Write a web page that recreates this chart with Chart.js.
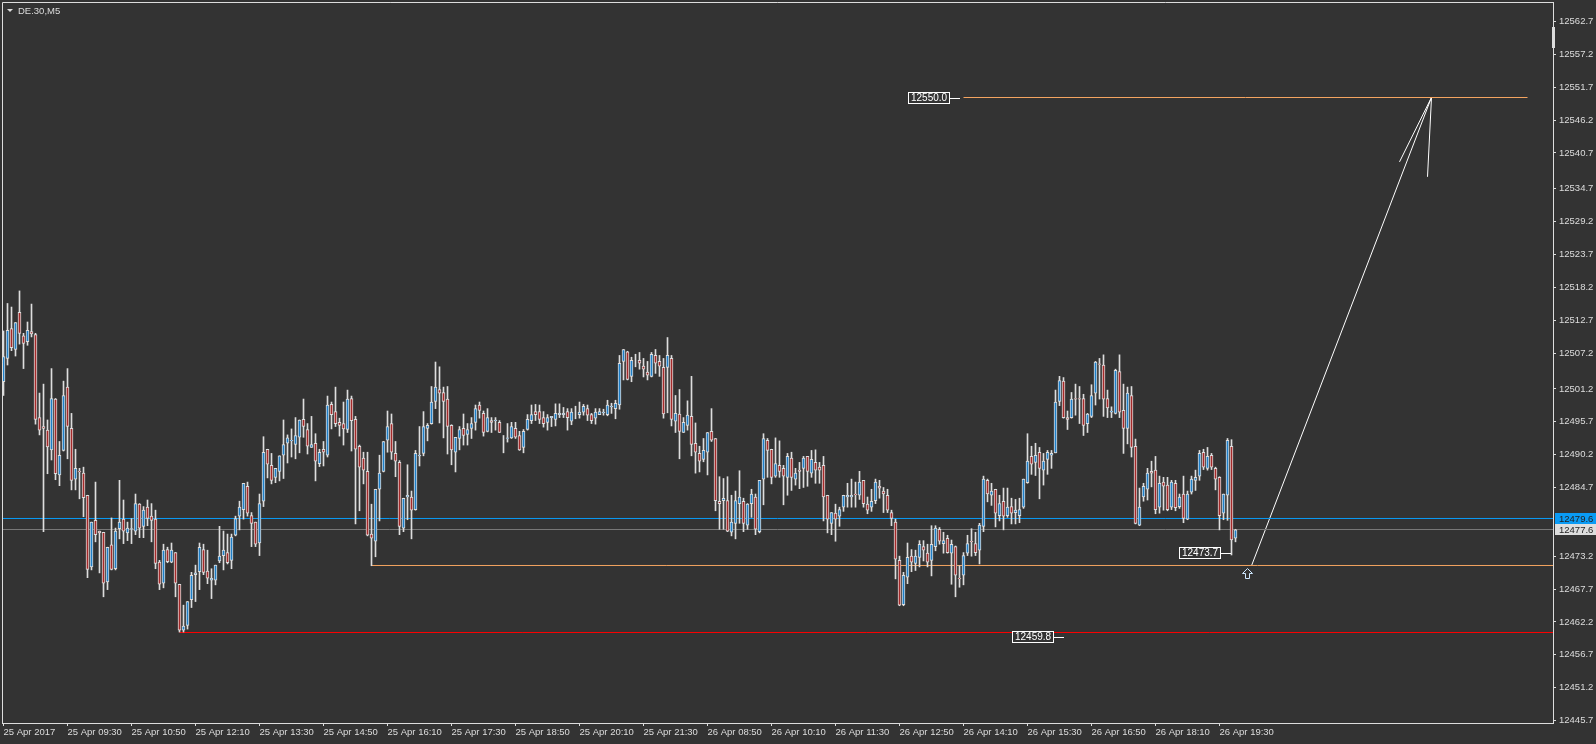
<!DOCTYPE html>
<html>
<head>
<meta charset="utf-8">
<title>DE.30,M5</title>
<script src="https://cdn.jsdelivr.net/npm/chart.js@4"></script>
<style>
    html, body { margin: 0; padding: 0; background: #333333; overflow: hidden; }
    canvas { display: block; }
</style>
</head>
<body>
<canvas id="chart" width="1596" height="744"></canvas>
<script>
// M5 bars, oldest first
const highs = [
12510.9,12515.5,12514.9,12512.3,12517.6,12510.5,12512.4,12515.4,12510.5,12500.5,
12502.0,12496.0,12504.6,12499.6,12492.4,12502.5,12504.6,12497.1,12491.1,12487.9,
12488.1,12483.4,12478.9,12485.6,12477.4,12477.2,12474.7,12479.6,12477.9,12485.9,
12482.6,12478.9,12479.5,12483.6,12482.0,12481.5,12482.6,12482.0,12480.9,12472.5,
12475.2,12474.7,12475.4,12473.8,12468.5,12465.0,12465.6,12470.5,12471.7,12475.4,
12475.2,12474.2,12471.1,12471.7,12478.2,12477.4,12476.9,12476.9,12479.9,12482.4,
12485.4,12485.6,12480.5,12478.9,12483.6,12493.2,12491.1,12490.4,12487.9,12490.0,
12496.0,12493.5,12494.5,12496.4,12496.0,12499.5,12495.4,12496.6,12493.7,12491.1,
12492.4,12500.0,12499.0,12501.5,12496.3,12499.0,12501.0,12500.0,12496.6,12491.8,
12490.6,12490.6,12481.9,12484.4,12490.1,12492.4,12497.5,12497.0,12492.4,12489.2,
12482.9,12488.5,12484.1,12490.9,12494.9,12497.4,12495.4,12501.6,12505.7,12504.9,
12501.5,12501.6,12495.2,12493.1,12494.9,12497.0,12495.4,12496.4,12498.5,12499.0,
12497.5,12497.9,12496.4,12496.4,12495.9,12493.4,12495.4,12495.6,12495.6,12494.1,
12494.4,12496.9,12498.5,12498.6,12498.5,12497.4,12496.9,12496.6,12498.7,12498.7,
12498.1,12497.9,12497.9,12498.3,12499.0,12498.6,12498.5,12497.1,12497.9,12497.9,
12497.8,12499.3,12498.8,12499.3,12506.8,12507.8,12507.5,12506.5,12507.0,12507.3,
12506.3,12505.8,12507.3,12507.8,12506.8,12506.3,12509.8,12506.8,12500.1,12501.1,
12496.4,12499.2,12503.3,12495.5,12491.6,12492.9,12493.9,12497.9,12492.9,12486.5,
12486.2,12486.5,12483.4,12484.1,12487.5,12482.9,12482.0,12484.4,12483.6,12485.9,
12493.7,12492.9,12491.1,12493.0,12492.5,12488.4,12490.4,12490.6,12487.9,12488.9,
12489.9,12489.9,12490.9,12491.0,12488.9,12489.9,12483.4,12480.5,12481.9,12481.4,
12483.4,12485.4,12486.1,12485.6,12487.4,12485.9,12483.1,12484.4,12486.1,12485.9,
12484.7,12484.4,12480.9,12479.4,12473.2,12470.5,12475.4,12474.3,12474.2,12475.8,
12475.8,12475.2,12478.3,12478.3,12478.0,12477.2,12476.7,12475.9,12474.9,12471.6,
12473.8,12476.7,12477.8,12477.2,12478.7,12486.6,12486.1,12485.4,12484.4,12483.4,
12484.6,12484.6,12482.9,12482.7,12482.9,12486.1,12493.7,12491.6,12492.1,12491.4,
12490.4,12490.9,12490.9,12501.0,12503.3,12503.1,12497.5,12500.6,12502.0,12501.6,
12500.3,12497.1,12501.9,12505.8,12506.3,12506.9,12501.0,12498.2,12504.5,12506.9,
12502.0,12501.5,12501.6,12492.8,12484.6,12485.4,12487.9,12489.1,12489.9,12486.6,
12486.4,12486.4,12485.9,12485.9,12483.6,12486.6,12484.1,12486.6,12487.6,12490.9,
12491.1,12491.4,12490.4,12488.1,12486.5,12483.6,12492.9,12492.7,12477.7
];
const lows = [
12500.1,12505.2,12507.6,12506.7,12508.7,12504.6,12508.5,12509.9,12495.3,12493.5,
12477.3,12487.0,12489.3,12486.0,12485.0,12490.8,12489.5,12484.3,12484.3,12482.8,
12479.8,12469.6,12470.9,12475.6,12470.4,12466.4,12467.6,12470.9,12470.9,12476.1,
12475.3,12475.8,12475.3,12476.8,12476.3,12476.3,12478.3,12475.6,12471.1,12467.6,
12467.9,12472.1,12472.1,12466.4,12460.5,12460.5,12461.0,12464.6,12465.6,12467.6,
12470.1,12468.6,12466.1,12468.4,12472.1,12470.9,12471.9,12471.1,12476.6,12477.6,
12479.4,12479.9,12474.8,12474.8,12473.3,12481.5,12486.3,12485.3,12485.5,12485.8,
12486.2,12488.8,12489.8,12489.5,12490.5,12493.1,12490.3,12491.4,12485.8,12488.2,
12488.3,12489.8,12494.5,12494.9,12493.3,12491.8,12493.9,12490.8,12478.6,12480.8,
12485.3,12476.6,12471.6,12473.1,12479.1,12487.3,12490.6,12489.4,12486.5,12476.8,
12477.3,12479.3,12476.1,12480.9,12488.3,12490.0,12492.5,12495.3,12497.9,12495.5,
12493.0,12490.3,12488.5,12487.3,12491.0,12491.8,12491.8,12492.9,12494.3,12496.3,
12493.3,12494.0,12493.9,12494.3,12493.9,12490.5,12492.3,12492.9,12492.9,12490.9,
12490.5,12494.3,12495.4,12495.9,12495.4,12494.8,12494.3,12494.9,12495.0,12496.4,
12496.4,12494.3,12495.2,12496.2,12496.3,12496.8,12495.9,12495.4,12495.3,12496.9,
12496.8,12496.7,12497.1,12496.2,12497.8,12502.7,12502.7,12502.4,12504.9,12504.5,
12503.2,12502.7,12503.2,12503.8,12503.3,12496.3,12497.2,12495.0,12493.9,12489.5,
12493.9,12494.3,12490.0,12487.1,12487.3,12489.0,12486.8,12492.4,12480.8,12477.7,
12477.7,12477.3,12476.6,12476.1,12478.7,12477.3,12477.7,12479.7,12476.8,12477.1,
12481.8,12486.4,12485.3,12486.4,12486.4,12481.8,12483.4,12484.2,12485.1,12484.5,
12484.7,12484.9,12486.4,12485.4,12485.4,12479.1,12477.1,12476.8,12475.7,12478.2,
12480.7,12481.4,12481.4,12481.4,12482.7,12481.4,12480.3,12480.7,12482.0,12482.9,
12480.5,12480.5,12478.3,12469.4,12464.9,12464.9,12468.6,12470.6,12470.8,12471.4,
12472.4,12471.4,12469.9,12474.1,12475.2,12473.7,12473.7,12468.5,12466.4,12468.0,
12468.4,12473.3,12473.2,12473.3,12471.9,12477.3,12482.3,12481.7,12478.1,12479.1,
12477.6,12479.7,12478.6,12478.6,12478.8,12481.2,12485.4,12486.9,12486.7,12482.8,
12485.1,12486.9,12487.9,12490.5,12498.4,12496.3,12494.4,12496.3,12496.8,12495.4,
12493.4,12493.9,12496.4,12498.5,12499.5,12496.6,12496.4,12496.4,12497.0,12496.4,
12490.4,12492.0,12489.8,12478.6,12478.3,12482.4,12482.6,12484.8,12480.3,12480.4,
12480.9,12480.8,12481.0,12480.8,12481.2,12478.8,12479.3,12483.6,12484.2,12485.9,
12487.7,12487.6,12487.7,12484.3,12477.6,12479.3,12479.2,12473.4,12475.6
];
const opens = [
12502.4,12506.3,12511.3,12507.8,12514.0,12510.1,12509.1,12510.8,12510.3,12496.4,
12494.9,12494.3,12491.0,12499.5,12486.8,12490.9,12501.5,12494.6,12486.1,12487.4,
12487.1,12483.4,12471.4,12479.2,12477.4,12477.2,12468.9,12475.1,12471.1,12477.8,
12479.4,12477.1,12477.7,12477.4,12481.9,12478.2,12481.4,12479.9,12479.4,12472.2,
12468.7,12474.3,12472.2,12473.8,12468.5,12460.8,12461.6,12465.9,12470.1,12470.6,
12474.3,12470.7,12469.2,12469.2,12472.4,12473.3,12473.8,12472.5,12476.7,12479.9,
12481.0,12484.9,12480.0,12478.9,12475.4,12482.4,12491.1,12488.4,12486.4,12487.4,
12490.1,12492.1,12492.5,12491.9,12493.1,12496.1,12494.4,12491.4,12492.1,12488.7,
12491.1,12490.1,12498.6,12497.4,12495.6,12495.4,12494.4,12499.6,12496.1,12491.6,
12489.6,12487.4,12476.9,12475.7,12484.4,12487.4,12492.6,12495.4,12490.4,12488.9,
12477.9,12483.1,12483.1,12481.0,12490.0,12490.4,12494.6,12495.4,12499.1,12501.1,
12500.6,12499.5,12495.1,12490.6,12492.9,12494.6,12493.6,12494.6,12495.6,12498.5,
12497.1,12494.1,12495.9,12495.9,12495.6,12493.4,12492.9,12493.0,12494.6,12493.4,
12491.4,12494.4,12495.9,12497.4,12497.4,12496.4,12495.6,12496.4,12496.1,12496.9,
12496.9,12497.4,12495.8,12496.9,12496.9,12497.3,12497.9,12496.9,12496.3,12496.9,
12497.2,12496.9,12498.2,12497.9,12498.5,12505.8,12507.4,12503.3,12506.3,12506.0,
12505.0,12504.0,12503.3,12506.8,12505.8,12504.8,12504.8,12506.3,12495.8,12497.0,
12493.9,12495.1,12496.6,12492.1,12490.4,12489.4,12490.6,12494.1,12492.9,12482.4,
12482.5,12482.5,12477.2,12478.7,12482.0,12482.4,12478.4,12482.0,12483.1,12477.3,
12486.1,12492.6,12491.1,12486.6,12488.4,12487.9,12486.4,12489.6,12486.1,12487.6,
12487.9,12489.9,12487.1,12488.9,12488.1,12488.4,12483.4,12478.7,12480.4,12479.9,
12481.4,12483.1,12483.1,12483.6,12483.4,12485.9,12481.9,12481.4,12482.5,12484.9,
12484.1,12483.4,12480.5,12478.9,12472.5,12465.1,12469.7,12473.2,12472.0,12473.0,
12474.8,12473.7,12472.5,12474.8,12477.7,12475.3,12476.2,12473.7,12474.8,12469.5,
12470.0,12473.7,12475.7,12475.3,12474.2,12478.2,12485.9,12483.4,12484.4,12480.0,
12482.4,12480.0,12481.5,12480.5,12480.0,12481.4,12485.5,12489.9,12488.9,12490.6,
12487.6,12489.4,12490.1,12490.5,12499.1,12502.5,12496.4,12496.4,12499.6,12499.6,
12499.6,12495.4,12496.6,12500.5,12505.4,12505.2,12499.6,12497.3,12497.1,12504.1,
12497.6,12494.6,12500.1,12491.6,12478.4,12483.1,12484.4,12487.4,12487.6,12481.4,
12485.6,12485.1,12481.4,12485.4,12481.5,12483.6,12479.4,12483.9,12485.9,12486.6,
12490.6,12487.9,12490.1,12487.9,12486.4,12480.4,12483.4,12491.6,12476.2
];
const closes = [
12506.6,12511.0,12508.1,12512.3,12510.5,12508.8,12511.0,12510.4,12496.1,12494.3,
12494.6,12491.5,12499.6,12487.0,12490.1,12500.1,12494.9,12485.9,12487.9,12487.3,
12483.0,12471.0,12478.9,12476.8,12477.1,12468.7,12474.7,12471.0,12477.4,12478.9,
12477.4,12477.9,12477.8,12482.0,12477.9,12480.9,12479.5,12479.2,12472.0,12468.5,
12474.2,12472.3,12474.2,12468.7,12460.8,12461.5,12465.6,12470.0,12470.4,12474.7,
12470.5,12469.5,12469.5,12471.7,12473.2,12474.2,12472.1,12476.4,12479.5,12481.4,
12485.4,12480.4,12478.7,12475.2,12482.0,12490.6,12488.6,12485.9,12487.9,12490.0,
12491.9,12493.0,12492.6,12493.4,12496.0,12494.9,12491.6,12491.9,12489.1,12490.6,
12490.6,12498.5,12496.9,12495.4,12495.1,12494.5,12499.5,12495.9,12491.1,12488.1,
12487.6,12476.7,12476.2,12484.4,12487.1,12492.4,12494.9,12490.6,12489.1,12478.2,
12482.9,12483.4,12480.9,12490.4,12490.1,12494.9,12495.1,12499.0,12501.5,12500.5,
12499.1,12494.9,12491.0,12493.1,12494.4,12493.4,12494.4,12495.4,12497.9,12497.6,
12493.9,12496.4,12495.6,12496.0,12493.9,12493.4,12493.0,12494.9,12493.1,12491.0,
12494.1,12496.1,12496.9,12496.9,12496.1,12495.4,12496.4,12496.6,12497.1,12497.1,
12497.1,12496.4,12497.3,12496.9,12497.3,12498.3,12496.8,12495.9,12497.3,12497.4,
12497.3,12498.5,12498.3,12498.8,12505.5,12507.8,12502.8,12506.0,12506.3,12505.5,
12504.5,12503.5,12507.0,12505.5,12505.0,12497.0,12506.8,12496.1,12497.1,12494.1,
12495.6,12496.8,12491.9,12490.6,12489.1,12490.9,12493.9,12492.6,12482.5,12482.0,
12482.9,12477.4,12478.9,12482.5,12483.1,12478.7,12481.9,12483.6,12477.7,12485.9,
12492.9,12490.9,12486.4,12488.7,12487.4,12486.6,12489.9,12486.4,12487.1,12487.4,
12489.6,12487.4,12489.4,12487.6,12487.6,12483.1,12479.4,12480.5,12479.4,12481.0,
12483.4,12483.4,12483.4,12483.5,12485.6,12482.0,12480.9,12482.4,12485.6,12484.6,
12483.6,12480.9,12479.5,12472.7,12465.0,12470.0,12473.0,12472.2,12473.2,12475.2,
12474.2,12472.2,12475.2,12477.9,12475.7,12475.8,12473.8,12475.2,12470.0,12469.4,
12473.3,12475.3,12475.6,12473.8,12478.4,12486.1,12483.6,12484.1,12480.4,12482.0,
12479.9,12481.4,12480.4,12480.9,12481.0,12486.1,12489.1,12488.6,12490.1,12487.9,
12489.1,12490.6,12490.4,12499.0,12502.6,12496.4,12496.1,12499.5,12499.5,12499.5,
12495.1,12497.0,12500.1,12505.7,12505.3,12499.5,12498.0,12497.5,12504.3,12497.3,
12494.6,12500.5,12491.4,12478.7,12481.4,12484.9,12487.1,12487.1,12481.0,12485.4,
12484.9,12481.0,12485.6,12481.3,12483.1,12479.5,12483.6,12486.1,12486.4,12490.4,
12488.1,12489.9,12488.1,12486.1,12480.0,12483.6,12492.6,12475.9,12477.6
];

const priceTicks = [12562.7,12557.2,12551.7,12546.2,12540.7,12534.7,12529.2,12523.7,12518.2,12512.7,
    12507.2,12501.2,12495.7,12490.2,12484.7,12473.2,12467.7,12462.2,12456.7,12451.2,12445.7];
const timeTicks = [0,16,32,48,64,80,96,112,128,144,160,176,192,208,224,240,256,272,288,304];
const timeLabels = ['25 Apr 2017','25 Apr 09:30','25 Apr 10:50','25 Apr 12:10','25 Apr 13:30','25 Apr 14:50',
    '25 Apr 16:10','25 Apr 17:30','25 Apr 18:50','25 Apr 20:10','25 Apr 21:30','26 Apr 08:50','26 Apr 10:10',
    '26 Apr 11:30','26 Apr 12:50','26 Apr 14:10','26 Apr 15:30','26 Apr 16:50','26 Apr 18:10','26 Apr 19:30'];

// drawn objects on the chart, in bars and prices
const bidLevel = 12479.506;
const askLevel = 12477.664;
const supportLevel = 12471.639;
const lowLevel = 12460.424;
const targetLevel = 12549.978;
const trendX = [312, 357];
const trendY = [12471.6, 12550.0];
const whiskerAX = [349, 357];
const whiskerAY = [12539.2, 12550.0];
const whiskerBX = [356, 357];
const whiskerBY = [12536.7, 12550.0];

const BG = '#333333';
const FG = '#dddddd';
const UP = '#1e7fc8';
const DOWN = '#a52a2a';
const FONT = '"Liberation Sans", sans-serif';

const XMIN = -0.375, XMAX = 387.375;
const YMAX = 12565.964, YMIN = 12445.274;

const bars = opens.map((o, i) => i);

function hline(y, x0, x1, color) {
    return {
        type: 'line',
        data: [{ x: x0, y: y }, { x: x1, y: y }],
        borderColor: color, borderWidth: 1, pointRadius: 0, order: 3, tension: 0
    };
}
function segment(xs, ys) {
    return {
        type: 'line',
        data: xs.map((x, i) => ({ x: x, y: ys[i] })),
        borderColor: '#ffffff', borderWidth: 1, pointRadius: 0, order: 3, tension: 0
    };
}
function noPadding(s) {
    s.paddingTop = s.paddingBottom = s.paddingLeft = s.paddingRight = 0;
}

// frame, chart name, price boxes and the notes MT4 keeps on top of the bars
const overlay = {
    id: 'overlay',
    afterDraw(chart) {
        const ctx = chart.ctx, area = chart.chartArea;
        const xs = chart.scales.x, ys = chart.scales.y;
        ctx.save();
        ctx.strokeStyle = FG;
        ctx.lineWidth = 1;
        ctx.beginPath();
        ctx.moveTo(area.left + 0.5, area.bottom);
        ctx.lineTo(area.left + 0.5, area.top + 0.5);
        ctx.lineTo(area.right, area.top + 0.5);
        ctx.stroke();

        // name of the chart
        ctx.fillStyle = FG;
        ctx.beginPath();
        ctx.moveTo(7, 9); ctx.lineTo(13, 9); ctx.lineTo(10, 12); ctx.closePath();
        ctx.fill();
        ctx.font = '9.5px ' + FONT;
        ctx.textBaseline = 'middle';
        ctx.textAlign = 'left';
        ctx.fillText('DE.30,M5', 18, 11);

        // scroll marker on the price axis
        ctx.fillRect(1552, 27, 3, 21);

        // current price boxes
        ctx.fillStyle = '#0a9bf5';
        ctx.fillRect(1555, 513, 41, 11);
        ctx.fillStyle = FG;
        ctx.fillRect(1555, 524, 41, 11);
        ctx.fillStyle = '#222222';
        ctx.fillText('12479.6', 1559, 519);
        ctx.fillText('12477.6', 1559, 530);

        // price notes
        note(ctx, '12550.0', 908, 92, 960);
        note(ctx, '12473.7', 1179, 547, 1231);
        note(ctx, '12459.8', 1012, 631, 1064);

        // arrow under the last bars
        const ax = Math.round(xs.getPixelForValue(311) - 0.5) + 0.5;
        const ay = Math.round(ys.getPixelForValue(12471.3) - 0.5) + 1.5;
        ctx.beginPath();
        ctx.moveTo(ax, ay);
        ctx.lineTo(ax + 5, ay + 5);
        ctx.lineTo(ax + 2, ay + 5);
        ctx.lineTo(ax + 2, ay + 10);
        ctx.lineTo(ax - 2, ay + 10);
        ctx.lineTo(ax - 2, ay + 5);
        ctx.lineTo(ax - 5, ay + 5);
        ctx.closePath();
        ctx.fillStyle = BG;
        ctx.fill();
        ctx.strokeStyle = '#cfe8ff';
        ctx.stroke();
        ctx.restore();
    }
};

function note(ctx, text, x, y, tickEnd) {
    ctx.fillStyle = BG;
    ctx.fillRect(x, y, 42, 12);
    ctx.strokeStyle = '#ffffff';
    ctx.strokeRect(x + 0.5, y + 0.5, 41, 11);
    ctx.beginPath();
    ctx.moveTo(x + 42, y + 6.5);
    ctx.lineTo(tickEnd, y + 6.5);
    ctx.stroke();
    ctx.fillStyle = '#ffffff';
    ctx.font = '10px ' + FONT;
    ctx.textAlign = 'left';
    ctx.textBaseline = 'middle';
    ctx.fillText(text, x + 3, y + 6.5);
}

const wicks = {
    type: 'bar',
    data: bars.map(i => ({ x: i, y: [lows[i], highs[i]] })),
    backgroundColor: FG,
    barThickness: 1,
    grouped: false,
    order: 2
};
const bodies = {
    type: 'bar',
    data: bars.map(i => ({ x: i, y: [opens[i], closes[i]] })),
    backgroundColor: bars.map(i => closes[i] >= opens[i] ? UP : DOWN),
    borderColor: FG,
    borderWidth: 1,
    borderSkipped: false,
    barThickness: 3,
    grouped: false,
    order: 1
};

new Chart(document.getElementById('chart').getContext('2d'), {
    data: {
        datasets: [
            bodies,
            wicks,
            hline(bidLevel, XMIN, XMAX, '#0a9bf5'),
            hline(askLevel, XMIN, XMAX, '#777777'),
            hline(supportLevel, 92, XMAX, '#f4a460'),
            hline(lowLevel, 44, XMAX, '#ff0000'),
            hline(targetLevel, 240, 381, '#f4a460'),
            segment(trendX, trendY),
            segment(whiskerAX, whiskerAY),
            segment(whiskerBX, whiskerBY)
        ]
    },
    options: {
        responsive: false,
        animation: false,
        devicePixelRatio: 1,
        layout: { padding: { left: 2, top: 2, right: 0, bottom: 0 } },
        plugins: { legend: { display: false }, tooltip: { enabled: false } },
        scales: {
            x: {
                type: 'linear',
                offset: false,
                min: XMIN,
                max: XMAX,
                afterBuildTicks: s => { s.ticks = timeTicks.map(v => ({ value: v })); },
                afterFit: s => { s.height = 21; noPadding(s); },
                grid: { drawOnChartArea: false, offset: false, color: FG, tickLength: 3, tickWidth: 1 },
                border: { color: FG },
                ticks: {
                    color: FG,
                    font: { family: FONT, size: 9.5 },
                    padding: 1,
                    align: 'start',
                    autoSkip: false,
                    maxRotation: 0,
                    callback: (v, i) => timeLabels[i]
                }
            },
            y: {
                type: 'linear',
                position: 'right',
                min: YMIN,
                max: YMAX,
                afterBuildTicks: s => { s.ticks = priceTicks.map(v => ({ value: v })); },
                afterFit: s => { s.width = 43; noPadding(s); },
                grid: { drawOnChartArea: false, color: FG, tickLength: 3, tickWidth: 1 },
                border: { color: FG },
                ticks: {
                    color: FG,
                    font: { family: FONT, size: 9.5 },
                    padding: 3,
                    autoSkip: false,
                    callback: v => v.toFixed(1)
                }
            }
        }
    },
    plugins: [overlay]
});
</script>
</body>
</html>
